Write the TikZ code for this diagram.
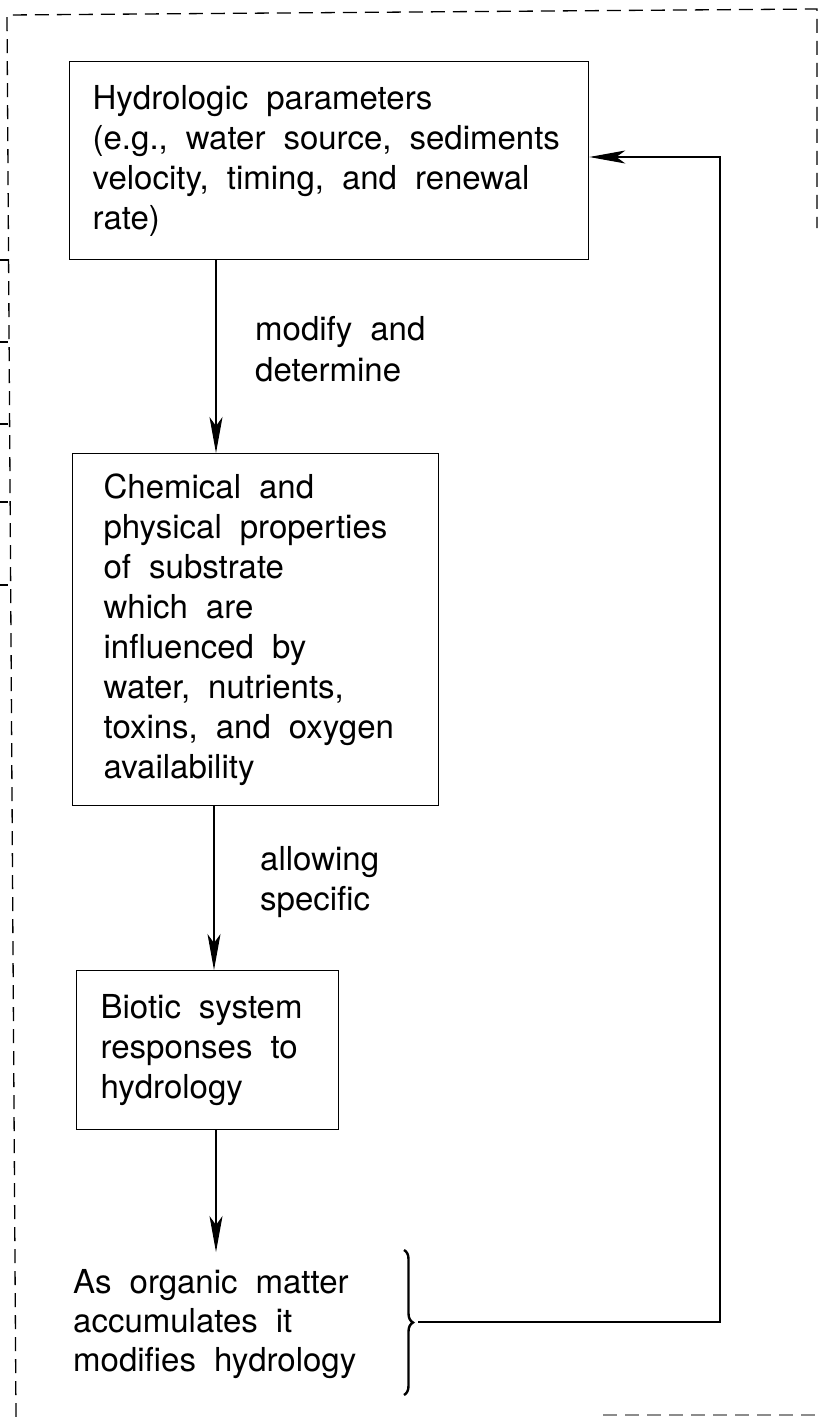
\documentclass[tikz,border=0pt]{standalone}
\usepackage{fontspec}
\setmainfont{TeX Gyre Heros}
\usetikzlibrary{arrows.meta,decorations.pathreplacing}
\newcommand{\diagfontat}[1]{\fontsize{33}{#1}\selectfont\spaceskip=18pt\relax}
\newcommand{\boxindent}[1]{\leftskip=#1\spaceskip=18pt\relax}
\begin{document}
\begin{tikzpicture}[x=1pt,y=-1pt,
  every node/.style={font=\diagfontat{40}},
  boxn/.style={draw, line width=1.3pt, anchor=north west, inner xsep=0pt, inner ysep=0pt, align=left},
  lbl/.style={anchor=west, align=left, inner sep=0pt},
  conn/.style={line width=1.1pt},
  arr/.style={conn, -{Stealth[length=36pt,width=13pt,inset=9pt]}},
  frame/.style={dash pattern=on 14pt off 8pt, line width=1.3pt},
  tick/.style={line width=1.2pt}
]
\useasboundingbox (0,0) rectangle (818,1417);
% dashed frame (partly visible)
\coordinate (f1) at (7,15);
\coordinate (f2) at (817,9);
\coordinate (f3) at (817,228);
\coordinate (f4) at (16,1417);
\coordinate (f5) at (603,1415);
\coordinate (f6) at (818,1415);
\draw[frame] (f4) -- (f1) -- (f2) -- (f3);
\draw[frame, black!45] (f5) -- (f6);
% small ticks on the left edge
\foreach \ty in {260,342,424,502,585}{
  \draw[tick] (0,\ty) -- (8,\ty);
}
% boxes
\node[boxn, text width=519pt, minimum height=198pt] (hyd) at (69,61)
  {\boxindent{23pt}Hydrologic parameters\\(e.g., water source, sediments\\velocity, timing, and renewal\\rate)\par};
\node[boxn, text width=366pt, minimum height=352pt] (chem) at (72,453)
  {\boxindent{31pt}Chemical and\\physical properties\\of substrate\\which are\\influenced by\\water, nutrients,\\toxins, and oxygen\\availability\par};
\node[boxn, text width=262pt, minimum height=159pt] (bio) at (76,970)
  {\boxindent{24pt}Biotic system\\responses to\\hydrology\par};
\node[lbl, font=\diagfontat{39}] (om) at (73,1324)
  {As organic matter\\accumulates it\\modifies hydrology};
% labels
\node[lbl, font=\diagfontat{41}] (md) at (255,349) {modify and\\determine};
\node[lbl] (al) at (260,882) {allowing\\specific};
% connectors
\coordinate (x1) at (216,0);
\coordinate (x2) at (214,0);
\coordinate (x3) at (216,0);
\coordinate (omtop) at (216,1252);
\draw[arr] (hyd.south -| x1) -- (chem.north -| x1);
\draw[arr] (chem.south -| x2) -- (bio.north -| x2);
\draw[arr] (bio.south -| x3) -- (omtop);
% brace and feedback
\coordinate (br1) at (404,1250);
\coordinate (br2) at (404,1395);
\draw[decorate, decoration={brace, amplitude=9pt}, line width=2.4pt] (br1) -- (br2);
\coordinate (btip) at (418,1322);
\coordinate (fbB) at (720,1322);
\coordinate (fbT) at (720,157);
\draw[arr] (btip) -- (fbB) -- (fbT) -- (hyd.east |- fbT);
\end{tikzpicture}
\end{document}
